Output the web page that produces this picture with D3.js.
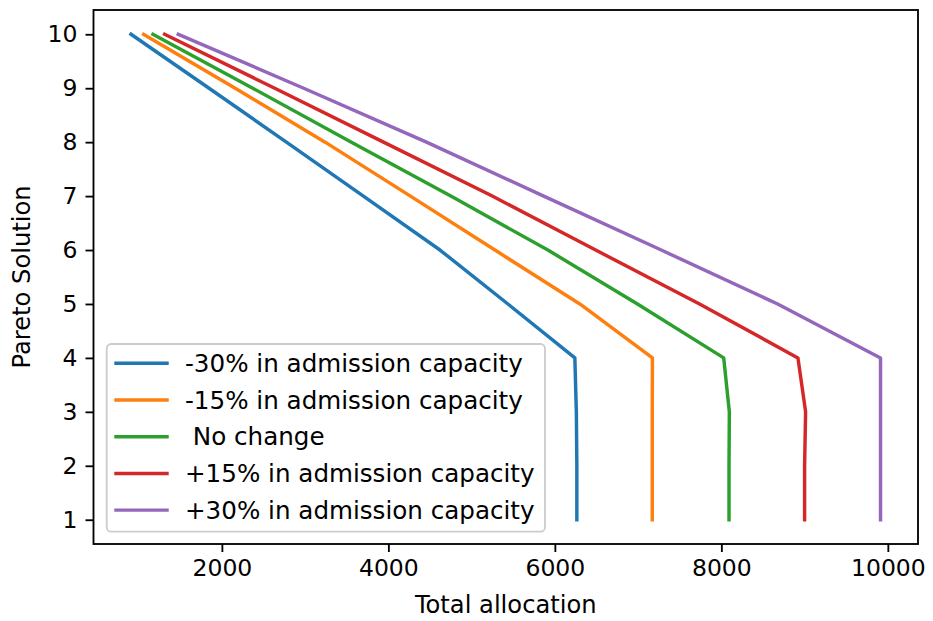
<!DOCTYPE html>
<html>
<head>
<meta charset="utf-8">
<script src="https://cdn.jsdelivr.net/npm/d3@7"></script>
<style>
  html, body { margin: 0; padding: 0; background: #ffffff; }
  svg { display: block; font-family: "DejaVu Sans", sans-serif; }
</style>
</head>
<body>
<svg id="chart" width="933" height="621"></svg>
<script>
// Pareto solution index (y) against total allocation (x) for each capacity scenario
const solutions = [1, 2, 3, 4, 5, 6, 7, 8, 9, 10];

const seriesNames = [
  "-30% in admission capacity",
  "-15% in admission capacity",
  " No change",
  "+15% in admission capacity",
  "+30% in admission capacity"
];

const minus30 = [6264, 6264, 6258, 6240, 5436, 4620, 3700, 2775, 1846, 908];
const minus15 = [7170, 7170, 7170, 7172, 6300, 5280, 4265, 3240, 2160, 1060];
const noChange = [8092, 8092, 8096, 8028, 6992, 5916, 4750, 3556, 2371, 1172];
const plus15 = [9000, 9000, 9012, 8920, 7738, 6490, 5248, 3942, 2635, 1312];
const plus30 = [9912, 9912, 9912, 9912, 8676, 7278, 5866, 4458, 2983, 1476];

const seriesValues = [minus30, minus15, noChange, plus15, plus30];
const colors = ["#1f77b4", "#ff7f0e", "#2ca02c", "#d62728", "#9467bd"];

const xTicks = [2000, 4000, 6000, 8000, 10000];
const yTicks = solutions;

const xLabel = "Total allocation";
const yLabel = "Pareto Solution";

// Plot area
const plot = { left: 93.5, right: 918, top: 10, bottom: 544 };
const tickFont = 23.5;
const labelFont = 24.2;
const legendFont = 24.6;

const svg = d3.select("#chart");

// Domains padded by 5% of the data span on each side
const allX = seriesValues.flat();
const xMin = d3.min(allX), xMax = d3.max(allX);
const xPad = (xMax - xMin) * 0.05;
const yMin = d3.min(solutions), yMax = d3.max(solutions);
const yPad = (yMax - yMin) * 0.05;

const x = d3.scaleLinear()
  .domain([xMin - xPad, xMax + xPad])
  .range([plot.left, plot.right]);

const y = d3.scaleLinear()
  .domain([yMin - yPad, yMax + yPad])
  .range([plot.bottom, plot.top]);

// Series lines
const line = d3.line()
  .x(d => x(d.v))
  .y(d => y(d.s));

const gLines = svg.append("g");
seriesValues.forEach((vals, i) => {
  const pts = solutions.map((s, j) => ({ s: s, v: vals[j] }));
  gLines.append("path")
    .datum(pts)
    .attr("d", line)
    .attr("fill", "none")
    .attr("stroke", colors[i])
    .attr("stroke-width", 3.45)
    .attr("stroke-linejoin", "round")
    .attr("stroke-linecap", "square");
});

// Axes
const xAxis = d3.axisBottom(x)
  .tickValues(xTicks)
  .tickFormat(d3.format("d"))
  .tickSize(8)
  .tickPadding(7);

const yAxis = d3.axisLeft(y)
  .tickValues(yTicks)
  .tickFormat(d3.format("d"))
  .tickSize(8)
  .tickPadding(8);

const gx = svg.append("g")
  .attr("transform", `translate(0,${plot.bottom})`)
  .call(xAxis);

const gy = svg.append("g")
  .attr("transform", `translate(${plot.left},0)`)
  .call(yAxis);

[gx, gy].forEach(g => {
  g.select(".domain").remove();
  g.selectAll(".tick line").attr("stroke", "#000").attr("stroke-width", 1.84);
  g.selectAll(".tick text")
    .attr("fill", "#000")
    .style("font-family", "'DejaVu Sans', sans-serif")
    .style("font-size", tickFont + "px");
});

// Frame around the plot area
svg.append("rect")
  .attr("x", plot.left)
  .attr("y", plot.top)
  .attr("width", plot.right - plot.left)
  .attr("height", plot.bottom - plot.top)
  .attr("fill", "none")
  .attr("stroke", "#000")
  .attr("stroke-width", 1.84);

// Axis titles
svg.append("text")
  .attr("x", (plot.left + plot.right) / 2)
  .attr("y", 613)
  .attr("text-anchor", "middle")
  .style("font-size", labelFont + "px")
  .attr("fill", "#000")
  .text(xLabel);

svg.append("text")
  .attr("transform", `translate(30,${(plot.top + plot.bottom) / 2}) rotate(-90)`)
  .attr("text-anchor", "middle")
  .style("font-size", labelFont + "px")
  .attr("fill", "#000")
  .text(yLabel);

// Legend in the lower-left corner
const legend = { x: 106.7, y: 344, w: 438.3, h: 187.7, rowTop: 363.3, rowStep: 36.7 };
const gLeg = svg.append("g");
gLeg.append("rect")
  .attr("x", legend.x)
  .attr("y", legend.y)
  .attr("width", legend.w)
  .attr("height", legend.h)
  .attr("rx", 4.5)
  .attr("fill", "#ffffff")
  .attr("fill-opacity", 0.8)
  .attr("stroke", "#cccccc")
  .attr("stroke-width", 1.84);

seriesNames.forEach((name, i) => {
  const ry = legend.rowTop + i * legend.rowStep;
  gLeg.append("line")
    .attr("x1", 116).attr("x2", 167)
    .attr("y1", ry).attr("y2", ry)
    .attr("stroke", colors[i])
    .attr("stroke-width", 3.45)
    .attr("stroke-linecap", "square");
  gLeg.append("text")
    .attr("x", 185)
    .attr("y", ry)
    .attr("dy", "0.35em")
    .style("font-size", legendFont + "px")
    .style("white-space", "pre")
    .attr("xml:space", "preserve")
    .attr("fill", "#000")
    .text(name);
});
</script>
</body>
</html>
